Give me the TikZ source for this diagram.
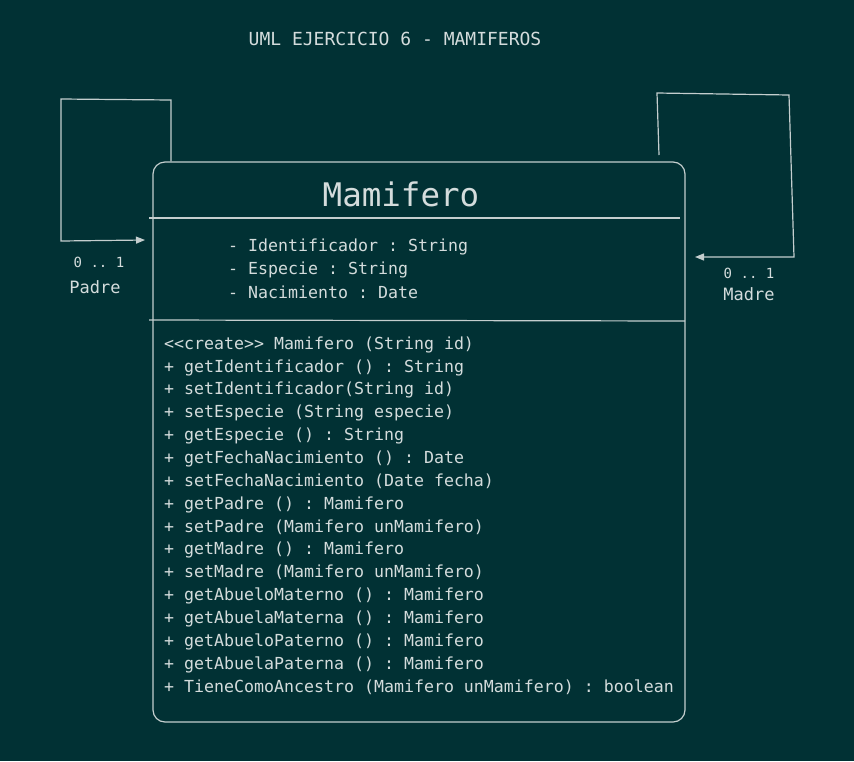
\documentclass[tikz,border=0pt]{standalone}
\usepackage{fontspec}
\setmonofont{DejaVu Sans Mono}
\usetikzlibrary{arrows.meta}
\definecolor{bgcol}{RGB}{1,49,52}
\definecolor{linecol}{RGB}{196,206,206}
\definecolor{txtcol}{RGB}{212,220,220}
\begin{document}
\begin{tikzpicture}[x=1pt,y=-1pt]
			\tikzset{classbox/.style={draw=linecol, line width=1.2pt, rounded corners=12pt, minimum width=532pt, minimum height=560pt, inner sep=0},
			umltxt/.style={text=txtcol, font=\ttfamily\fontsize{16.6}{20}\selectfont, inner sep=0, anchor=mid west},
			multtxt/.style={text=txtcol, font=\ttfamily\fontsize{14}{16}\selectfont, inner sep=0},
			roltxt/.style={text=txtcol, font=\ttfamily\fontsize{17}{20}\selectfont, inner sep=0},
			assoc/.style={draw=linecol, line width=1.2pt, -{Triangle[length=9pt,width=7pt]}}}

\fill[bgcol] (0,0) rectangle (854,761);
\useasboundingbox (0,0) rectangle (854,761);

\node[text=txtcol, font=\ttfamily\fontsize{18}{22}\selectfont] at (395,39) (titulo) {UML EJERCICIO 6 - MAMIFEROS};

\node[classbox] at (419,442) (mam) {};
\node[text=txtcol, font=\ttfamily\fontsize{32.5}{38}\selectfont, inner sep=0] at (401,194) (nombre) {Mamifero};
			\draw [draw=linecol, line width=1.2pt] (149,218) -- (680,218);
			\draw [draw=linecol, line width=1.2pt] (149,320) -- (685,321);

\node[umltxt] at (228,249) (at1) {- Identificador : String};
\node[umltxt] at (228,272) (at2) {- Especie : String};
\node[umltxt] at (228,296) (at3) {- Nacimiento : Date};

			\foreach \txt [count=\i from 0] in {<<create>> Mamifero (String id),
				+ getIdentificador () : String,
				+ setIdentificador(String id),
				+ setEspecie (String especie),
				+ getEspecie () : String,
				+ getFechaNacimiento () : Date,
				+ setFechaNacimiento (Date fecha),
				+ getPadre () : Mamifero,
				+ setPadre (Mamifero unMamifero),
				+ getMadre () : Mamifero,
				+ setMadre (Mamifero unMamifero),
				+ getAbueloMaterno () : Mamifero,
				+ getAbuelaMaterna () : Mamifero,
				+ getAbueloPaterno () : Mamifero,
				+ getAbuelaPaterna () : Mamifero,
				+ TieneComoAncestro (Mamifero unMamifero) : boolean}
				\node[umltxt] at (164,347+22.87*\i) (met\i) {\txt};

\coordinate (padA) at (171,100);
\coordinate (padB) at (61,99);
\coordinate (padC) at (61,241);
\coordinate (padFin) at (145,240);
			\draw [assoc] (mam.north -| padA) -- (padA) -- (padB) -- (padC) -- (padFin);
\node[multtxt] at (99,262) (padMult) {0 .. 1};
\node[roltxt] at (95,287) (padRol) {Padre};

\coordinate (madS) at (659,155);
\coordinate (madA) at (657,93);
\coordinate (madB) at (789,95);
\coordinate (madC) at (794,257);
\coordinate (madFin) at (695,257);
			\draw [assoc] (madS) -- (madA) -- (madB) -- (madC) -- (madFin);
\node[multtxt] at (749,273) (madMult) {0 .. 1};
\node[roltxt] at (749,294) (madRol) {Madre};
		\end{tikzpicture}
\end{document}
